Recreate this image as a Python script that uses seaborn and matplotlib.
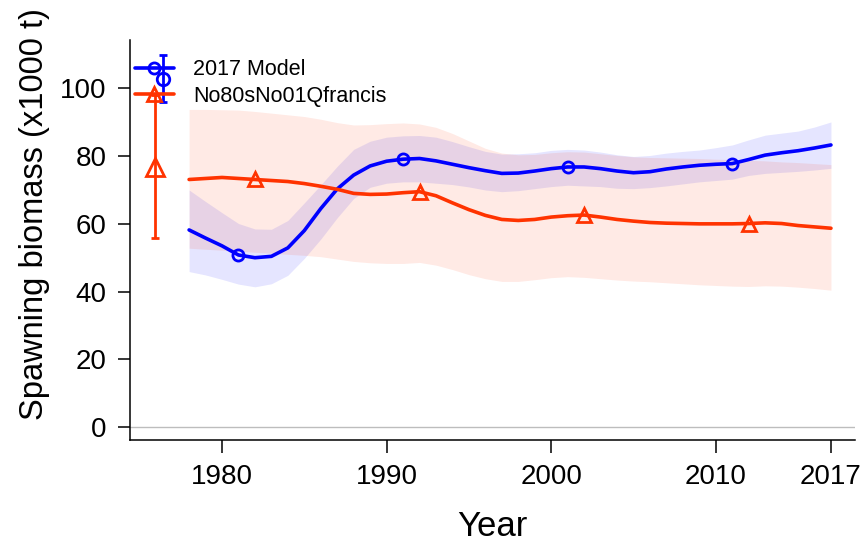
import numpy as np
import pandas as pd
import seaborn as sns
import matplotlib
matplotlib.use("Agg")
import matplotlib.pyplot as plt
from matplotlib.lines import Line2D

sns.set_style("ticks")
plt.rcParams['font.family'] = ['Liberation Sans', 'DejaVu Sans']
plt.rcParams['text.color'] = 'black'
plt.rcParams['axes.labelcolor'] = 'black'

years = list(range(1978, 2018))
model_names = ["2017 Model", "No80sNo01Qfrancis"]
colors = {"2017 Model": "#0000ff", "No80sNo01Qfrancis": "#ff3300"}

# 2017 Model spawning biomass (x1000 t) and 95% interval
sb_base = [58.2, 55.8, 53.5, 50.8, 50.0, 50.4, 52.9, 58.0, 64.5, 70.3,
           74.4, 77.1, 78.5, 79.1, 79.3, 78.6, 77.6, 76.6, 75.7, 74.9,
           75.0, 75.6, 76.3, 76.8, 76.8, 76.3, 75.6, 75.1, 75.4, 76.2,
           76.8, 77.3, 77.6, 77.8, 79.0, 80.3, 81.0, 81.6, 82.4, 83.3]
hi_base = [70.0, 66.6, 63.3, 60.1, 58.5, 58.4, 61.0, 66.2, 71.5, 77.0,
           82.0, 84.4, 85.6, 86.0, 86.1, 85.6, 84.3, 82.8, 81.4, 80.6,
           80.7, 81.0, 81.7, 82.0, 81.8, 81.2, 80.4, 79.9, 80.2, 80.9,
           81.4, 81.8, 82.5, 83.3, 84.8, 86.2, 86.8, 87.4, 88.6, 90.1]
lo_base = [45.9, 44.9, 43.6, 42.2, 41.4, 42.3, 44.8, 49.8, 55.5, 61.8,
           67.5, 70.8, 72.0, 72.4, 72.4, 72.0, 71.6, 70.9, 70.0, 69.5,
           69.8, 70.4, 71.0, 71.4, 71.2, 71.0, 70.5, 70.4, 70.7, 71.2,
           71.8, 72.4, 72.8, 73.2, 74.3, 74.9, 75.2, 75.5, 75.9, 76.4]

# No80sNo01Qfrancis sensitivity run
sb_sens = [73.1, 73.4, 73.7, 73.4, 73.1, 72.8, 72.5, 71.9, 71.1, 70.2,
           69.0, 68.7, 68.8, 69.2, 69.5, 68.3, 66.2, 64.2, 62.5, 61.3,
           61.0, 61.3, 62.0, 62.4, 62.6, 62.0, 61.3, 60.8, 60.4, 60.2,
           60.1, 60.0, 60.0, 60.0, 60.1, 60.3, 60.1, 59.5, 59.1, 58.7]
hi_sens = [93.8, 93.8, 93.7, 93.6, 93.2, 92.7, 92.2, 91.7, 90.9, 89.9,
           89.2, 89.3, 89.6, 89.8, 89.5, 88.5, 86.7, 84.5, 82.3, 80.9,
           80.4, 80.5, 81.0, 81.3, 81.2, 80.7, 80.2, 79.8, 79.6, 79.5,
           79.4, 79.3, 79.1, 79.0, 78.8, 78.6, 78.3, 78.1, 77.8, 77.5]
lo_sens = [52.8, 52.5, 52.2, 51.9, 51.6, 51.3, 51.0, 50.7, 50.3, 49.6,
           48.9, 48.5, 48.3, 48.3, 48.6, 47.8, 46.5, 45.0, 43.8, 43.0,
           43.0, 43.5, 44.1, 44.4, 44.2, 43.8, 43.4, 43.1, 42.9, 42.6,
           42.3, 42.0, 41.8, 41.6, 41.5, 41.7, 41.6, 41.3, 40.9, 40.4]

# unfished (initial) biomass with interval, plotted left of the series
init_year = [1976.4, 1975.9]
init_sb = [102.9, 76.8]
init_lo = [96.0, 55.7]
init_hi = [109.8, 98.0]

marker_years = [[1981, 1991, 2001, 2011], [1982, 1992, 2002, 2012]]
marker_shape = ["o", "^"]
xticks = [1980, 1990, 2000, 2010, 2017]
yticks = [0, 20, 40, 60, 80, 100]

data = pd.concat([
    pd.DataFrame({"Year": years, "SB": sb_base, "lo": lo_base, "hi": hi_base, "Model": model_names[0]}),
    pd.DataFrame({"Year": years, "SB": sb_sens, "lo": lo_sens, "hi": hi_sens, "Model": model_names[1]}),
])

fig = plt.figure(figsize=(8.66, 5.47), dpi=100)
ax = fig.add_axes([130 / 866, 1 - 440 / 547, 725 / 866, 400 / 547])

ax.axhline(0, color="#bdbdbd", lw=1.0, zorder=0)

for name in model_names:
    d = data[data["Model"] == name]
    ax.fill_between(d["Year"], d["lo"], d["hi"], color=colors[name], alpha=0.1, lw=0)

sns.lineplot(data=data, x="Year", y="SB", hue="Model", palette=colors,
             linewidth=2.6, legend=False, ax=ax)

for i, name in enumerate(model_names):
    d = data[(data["Model"] == name) & (data["Year"].isin(marker_years[i]))]
    ms = 8 if marker_shape[i] == "o" else 9.5
    ax.plot(d["Year"], d["SB"], ls="none", marker=marker_shape[i], ms=ms,
            mfc="none", mec=colors[name], mew=2.0)
    ax.errorbar(init_year[i], init_sb[i],
                yerr=[[init_sb[i] - init_lo[i]], [init_hi[i] - init_sb[i]]],
                color=colors[name], lw=2.0, capsize=3, capthick=2.0,
                marker=marker_shape[i], ms=9 if i == 0 else 12.5,
                mfc="none", mec=colors[name], mew=2.0)

ax.set_xlim(1974.41, 2018.46)
ax.set_ylim(-3.84, 114.3)
ax.set_xticks(xticks)
ax.set_yticks(yticks)
ax.tick_params(labelsize=20, length=9, width=1.1, pad=8, colors="black")
for s in ["top", "right"]:
    ax.spines[s].set_visible(False)
for s in ["left", "bottom"]:
    ax.spines[s].set_linewidth(1.1)
    ax.spines[s].set_color("black")

ax.set_xlabel("Year", fontsize=25)
ax.set_ylabel("Spawning biomass (x1000 t)", fontsize=23.5)
ax.xaxis.set_label_coords(0.5, -0.175)
ax.yaxis.set_label_coords(-0.11, 0.566)

handles = [Line2D([], [], color=colors[n], lw=2.6, marker=marker_shape[i],
                  ms=8 if i == 0 else 9.5, mfc="none", mew=2.0)
           for i, n in enumerate(model_names)]
ax.legend(handles, model_names, loc="upper left", bbox_to_anchor=(0.007, 0.952),
          frameon=False, fontsize=15.5, handlelength=1.8, handletextpad=0.9,
          labelspacing=0.25, borderpad=0, borderaxespad=0, numpoints=1)

fig.savefig("out.png", dpi=100)
